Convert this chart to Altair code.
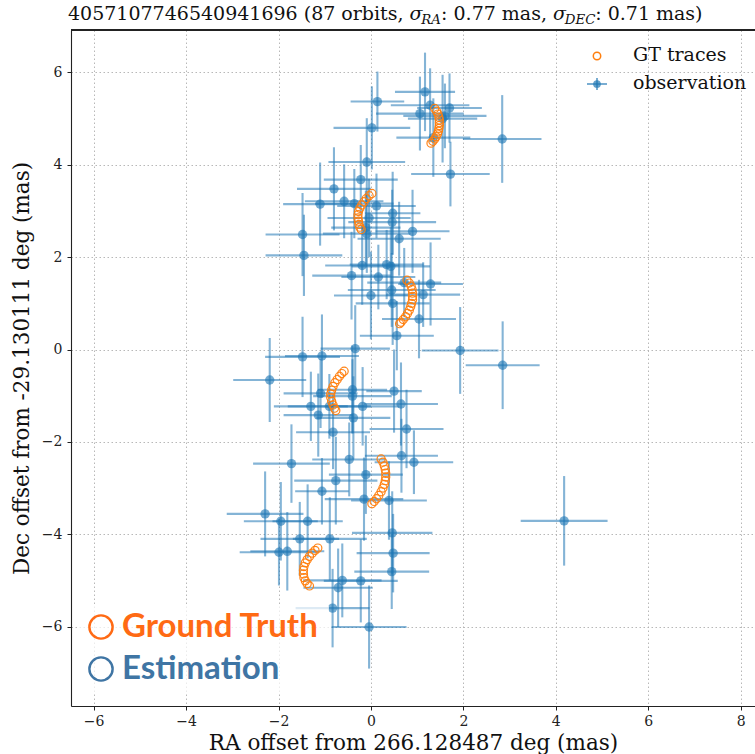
import altair as alt
import pandas as pd

# Observed astrometric offsets (mas) with 1-sigma uncertainties
obs_ra = [1.17, 0.14, 1.28, 1.70, 1.06, 1.60, 1.55, 0.02, 2.84, 1.35,
          -0.09, 1.72, -0.80, -0.22, -1.10, -0.58, -0.36, 0.12, -0.04, 0.47,
          0.46, -0.11, -0.09, 0.90, -1.48, 0.61, -1.45, -0.19, 0.34, 0.43,
          -0.42, 0.16, 0.72, 1.29, 0.45, 0.00, 1.13, 0.47, 1.04, 0.56,
          1.93, 2.85, -2.19, -1.48, -1.06, -0.34, -1.09, -0.40, -0.40, -1.30,
          -0.90, -0.18, -1.14, -0.38, -0.82, 0.50, 0.65, 0.77, -1.72, -0.47,
          -0.11, -0.76, -1.06, -0.15, -2.29, -1.95, -1.37, -1.54, -0.89, -1.99,
          -1.81, -0.62, -0.22, -0.71, -0.83, -0.04, 0.66, 0.93, 0.39, 0.46,
          0.48, 0.45, 4.18]
obs_dec = [5.58, 5.37, 5.29, 5.23, 5.11, 5.06, 5.00, 4.80, 4.56, 4.59,
           4.06, 3.80, 3.48, 3.68, 3.15, 3.21, 3.16, 3.11, 2.85, 2.95,
           2.76, 2.64, 2.51, 2.56, 2.49, 2.40, 2.04, 1.82, 1.84, 1.80,
           1.60, 1.57, 1.45, 1.42, 1.29, 1.17, 1.19, 1.00, 0.66, 0.30,
           -0.02, -0.34, -0.66, -0.16, -0.14, 0.02, -0.95, -0.87, -1.01, -1.23,
           -1.23, -1.23, -1.42, -1.48, -1.79, -0.90, -1.18, -1.72, -2.47, -2.38,
           -2.71, -2.84, -3.07, -3.24, -3.56, -3.72, -3.72, -4.10, -4.10, -4.39,
           -4.37, -5.00, -5.01, -5.16, -5.60, -6.01, -2.30, -2.44, -3.27, -3.97,
           -4.41, -4.81, -3.71]
obs_ra_err = [0.65, 0.58, 0.85, 0.70, 0.95, 0.90, 0.75, 0.83, 0.85, 0.80,
              0.83, 0.85, 0.80, 0.80, 0.80, 0.85, 0.85, 0.85, 0.90, 0.60,
              0.95, 0.75, 0.95, 0.80, 0.80, 0.90, 0.83, 0.80, 0.80, 0.85,
              0.85, 0.80, 0.80, 0.70, 0.95, 0.80, 0.80, 0.80, 0.80, 0.80,
              0.83, 0.80, 0.79, 0.81, 0.80, 0.75, 0.80, 0.75, 0.85, 0.80,
              0.90, 0.80, 0.75, 0.80, 0.80, 0.60, 0.80, 0.80, 0.83, 0.80,
              0.80, 0.90, 0.58, 0.85, 0.83, 0.80, 0.76, 0.85, 0.80, 0.85,
              0.80, 0.85, 0.80, 0.75, 0.80, 0.81, 0.79, 0.85, 0.82, 0.87,
              0.79, 0.81, 0.94]
obs_dec_err = [0.85, 0.65, 0.80, 0.75, 0.80, 0.70, 0.95, 0.90, 0.95, 0.85,
               0.95, 0.70, 0.90, 0.75, 0.90, 0.80, 0.75, 0.70, 0.85, 0.90,
               0.70, 0.80, 0.85, 0.90, 0.90, 0.80, 0.88, 0.85, 0.75, 0.85,
               0.95, 0.70, 0.75, 0.90, 0.80, 0.95, 0.70, 0.90, 0.85, 0.75,
               0.94, 0.95, 0.91, 0.87, 0.90, 0.94, 0.75, 0.95, 0.80, 0.75,
               0.70, 0.85, 0.90, 0.90, 0.80, 0.90, 0.90, 0.85, 0.85, 0.80,
               0.85, 0.95, 0.72, 0.90, 0.92, 0.85, 0.80, 0.80, 0.90, 0.72,
               0.85, 0.80, 0.90, 0.85, 0.85, 0.90, 0.80, 0.69, 0.85, 0.90,
               0.85, 0.81, 0.97]

# Ground-truth trace positions along the orbit arcs (mas)
gt_ra = [1.38, 1.42, 1.45, 1.47, 1.48, 1.48, 1.48, 1.47, 1.46, 1.44, 1.41, 1.38, 1.34, 1.30,
         0.02, -0.04, -0.10, -0.15, -0.20, -0.24, -0.27, -0.28, -0.28, -0.27, -0.26, -0.24, -0.21,
         0.78, 0.83, 0.87, 0.89, 0.90, 0.90, 0.90, 0.88, 0.86, 0.83, 0.79, 0.75, 0.70, 0.65, 0.62,
         -0.58, -0.63, -0.68, -0.73, -0.78, -0.82, -0.85, -0.87, -0.87, -0.85, -0.82, -0.79, -0.76,
         0.22, 0.26, 0.29, 0.31, 0.32, 0.32, 0.31, 0.29, 0.26, 0.22, 0.17, 0.12, 0.07, 0.02,
         -1.15, -1.21, -1.27, -1.33, -1.38, -1.42, -1.45, -1.46, -1.46, -1.45, -1.42, -1.38, -1.33]
gt_dec = [5.22, 5.16, 5.10, 5.03, 4.97, 4.91, 4.85, 4.79, 4.73, 4.67, 4.61, 4.56, 4.51, 4.47,
          3.38, 3.33, 3.27, 3.20, 3.13, 3.06, 2.99, 2.92, 2.85, 2.78, 2.71, 2.65, 2.60,
          1.50, 1.44, 1.37, 1.30, 1.22, 1.15, 1.08, 1.00, 0.93, 0.85, 0.78, 0.71, 0.65, 0.59, 0.56,
          -0.47, -0.52, -0.58, -0.65, -0.72, -0.80, -0.88, -0.96, -1.04, -1.12, -1.20, -1.27, -1.32,
          -2.37, -2.44, -2.52, -2.60, -2.68, -2.76, -2.84, -2.92, -3.00, -3.08, -3.16, -3.23, -3.29, -3.34,
          -4.30, -4.35, -4.41, -4.48, -4.55, -4.62, -4.70, -4.78, -4.86, -4.94, -5.01, -5.07, -5.12]

x_ticks = [-6, -4, -2, 0, 2, 4, 6, 8]
y_ticks = [-6, -4, -2, 0, 2, 4, 6]

W, H = 684, 676
SERIF = "DejaVu Serif"
BLUE = "#1f77b4"
ORANGE = "#ff7f0e"

obs = pd.DataFrame({"ra": obs_ra, "dec": obs_dec,
                    "ra_err": obs_ra_err, "dec_err": obs_dec_err})
obs["ra_lo"] = obs["ra"] - obs["ra_err"]
obs["ra_hi"] = obs["ra"] + obs["ra_err"]
obs["dec_lo"] = obs["dec"] - obs["dec_err"]
obs["dec_hi"] = obs["dec"] + obs["dec_err"]
gt = pd.DataFrame({"ra": gt_ra, "dec": gt_dec})

xs = alt.Scale(domain=[-6.49, 8.31], nice=False, zero=False)
ys = alt.Scale(domain=[-7.72, 6.92], nice=False, zero=False)

grid_style = dict(grid=True, gridColor="#b0b0b0", gridDash=[1.5, 2.5], gridWidth=0.9,
                  domain=True, domainColor="#222", domainWidth=1.1,
                  ticks=True, tickColor="#222", tickSize=4, tickWidth=1,
                  labelFont=SERIF, labelFontSize=14, labelColor="#222",
                  titleFont=SERIF, titleFontSize=21.5, titleFontWeight="normal",
                  titleColor="#111")

x_axis = alt.Axis(values=x_ticks, format="d", title="RA offset from 266.128487 deg (mas)",
                  labelPadding=4, titlePadding=4, **grid_style)
y_axis = alt.Axis(values=y_ticks, format="d", title="Dec offset from -29.130111 deg (mas)",
                  labelPadding=5, titlePadding=8, **grid_style)

base = alt.Chart(obs)

h_bars = base.mark_rule(strokeWidth=2.1, color=BLUE, opacity=0.55, clip=True).encode(
    x=alt.X("ra_lo:Q", scale=xs, axis=x_axis), x2="ra_hi:Q",
    y=alt.Y("dec:Q", scale=ys, axis=y_axis))
v_bars = base.mark_rule(strokeWidth=2.1, color=BLUE, opacity=0.55, clip=True).encode(
    x=alt.X("ra:Q", scale=xs), y=alt.Y("dec_lo:Q", scale=ys), y2="dec_hi:Q")
dots = base.mark_circle(size=88, color=BLUE, opacity=0.62, clip=True).encode(
    x=alt.X("ra:Q", scale=xs), y=alt.Y("dec:Q", scale=ys))

traces = alt.Chart(gt).mark_point(shape="circle", filled=False, size=66, color=ORANGE,
                                  strokeWidth=1.2, opacity=0.95, clip=True).encode(
    x=alt.X("ra:Q", scale=xs), y=alt.Y("dec:Q", scale=ys))

# top spine
top_spine = alt.Chart(obs).mark_rule(color="#222", strokeWidth=1.1).encode(
    x=alt.value(0), x2=alt.value(W), y=alt.value(0))

# ---- legend (upper right) ----
one = pd.DataFrame({"k": [0]})
leg_gt = alt.Chart(one).mark_point(shape="circle", filled=False, size=55, color=ORANGE,
                                   strokeWidth=1.5, opacity=1).encode(x=alt.value(526), y=alt.value(26))
leg_obs_h = alt.Chart(one).mark_rule(color=BLUE, opacity=0.6, strokeWidth=2).encode(
    x=alt.value(516), x2=alt.value(536), y=alt.value(54))
leg_obs_v = alt.Chart(one).mark_rule(color=BLUE, opacity=0.6, strokeWidth=2).encode(
    x=alt.value(526), y=alt.value(48), y2=alt.value(60))
leg_obs_dot = alt.Chart(one).mark_circle(size=60, color=BLUE, opacity=0.7).encode(
    x=alt.value(526), y=alt.value(54))
leg_text = alt.Chart(pd.DataFrame({"label": ["GT traces", "observation"], "yy": [25, 53]})).mark_text(
    font=SERIF, fontSize=19, align="left", baseline="middle", color="#111").encode(
    x=alt.value(562), y=alt.Y("yy:Q", scale=None), text="label:N")

# ---- Ground Truth / Estimation badge ----
badge_bg = alt.Chart(one).mark_rect(color="white", opacity=0.72).encode(
    x=alt.value(8), x2=alt.value(258), y=alt.value(576), y2=alt.value(664))
badge_rings = alt.Chart(pd.DataFrame({"yy": [597, 639], "c": ["#ff6a14", "#3f75a4"]})).mark_point(
    shape="circle", filled=False, size=540, strokeWidth=2.4, opacity=1).encode(
    x=alt.value(30), y=alt.Y("yy:Q", scale=None), color=alt.Color("c:N", scale=None))
badge_text = alt.Chart(pd.DataFrame({"label": ["Ground Truth", "Estimation"], "yy": [597, 639],
                                     "c": ["#ff6a14", "#3f75a4"]})).mark_text(
    font="Lato", fontWeight="bold", fontSize=33, align="left", baseline="middle").encode(
    x=alt.value(51), y=alt.Y("yy:Q", scale=None), text="label:N",
    color=alt.Color("c:N", scale=None))

# ---- title with sigma subscripts, laid out piecewise ----
ADV = {"0": .636, "1": .636, "2": .636, "3": .636, "4": .636, "5": .636, "6": .636,
       "7": .636, "8": .636, "9": .636, " ": .318, "(": .390, ")": .390, ",": .318,
       ".": .318, ":": .337, "o": .602, "r": .478, "b": .640, "i": .320, "t": .402,
       "s": .513, "m": .948, "a": .596, "R": .764, "A": .724, "D": .830, "E": .731,
       "C": .729, "σ": .62}


def text_width(s, size):
    return sum(ADV.get(ch, .6) for ch in s) * size


TS, SS = 19, 13.3
pieces = [("4057107746540941696 (87 orbits, ", TS, False, 0),
          ("σ", TS, True, 0), ("RA", SS, True, 4),
          (": 0.77 mas, ", TS, False, 0),
          ("σ", TS, True, 0), ("DEC", SS, True, 4),
          (": 0.71 mas)", TS, False, 0)]
rows, cx = [], -3.0
for txt, size, ital, dy in pieces:
    rows.append({"t": txt, "x": cx, "y": -10 + dy, "size": size,
                 "style": "italic" if ital else "normal"})
    cx += text_width(txt, size)
title_layers = []
for r in rows:
    title_layers.append(alt.Chart(pd.DataFrame([r])).mark_text(
        font=SERIF, fontSize=r["size"], fontStyle=r["style"], align="left",
        baseline="alphabetic", color="#111").encode(
        x=alt.value(r["x"]), y=alt.value(r["y"]), text="t:N"))

chart = alt.layer(
    h_bars, v_bars, dots, traces, top_spine,
    leg_gt, leg_obs_h, leg_obs_v, leg_obs_dot, leg_text,
    badge_bg, badge_rings, badge_text, *title_layers
).properties(
    width=W, height=H,
    autosize=alt.AutoSizeParams(type="none"),
    padding={"left": 71, "top": 30, "right": 0, "bottom": 48},
).configure_view(stroke=None).configure(background="white")

chart.save("out.html", embed_options={"renderer": "svg", "actions": False})
